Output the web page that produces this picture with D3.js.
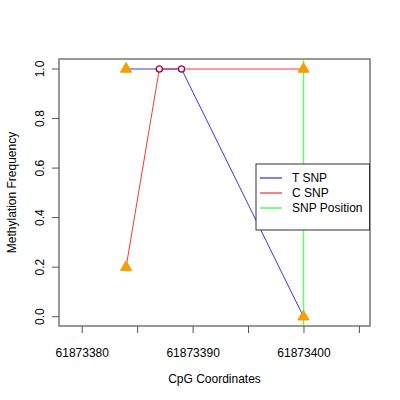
<!DOCTYPE html>
<html>
<head>
<meta charset="utf-8">
<script src="https://cdn.jsdelivr.net/npm/d3@7"></script>
<style>
  body { margin: 0; background: #fff; }
  text { font-family: "Liberation Sans", Arial, sans-serif; }
</style>
</head>
<body>
<script>
// CpG positions and methylation values
const positions = [61873384, 61873387, 61873389, 61873400];
const tSnp = [1.0, 1.0, 1.0, 0.0];
const cSnp = [0.2, 1.0, 1.0, 1.0];
// which points are drawn as triangles vs small open circles
const tShape = ["tri", "circle", "circle", "tri"];
const cShape = ["tri", "circle", "circle", "tri"];
const snpPosition = 61873400;

const xTicks = [61873380, 61873385, 61873390, 61873395, 61873400, 61873405];
const xLabels = [61873380, 61873390, 61873400];
const yTicks = [0, 0.2, 0.4, 0.6, 0.8, 1.0];

const legendNames = ["T SNP", "C SNP", "SNP Position"];
const legendColors = ["#0000ff", "#ff0000", "#00ff00"];

const W = 400, H = 400;
const mLeft = 59, mRight = 370, mTop = 59, mBottom = 326;

const svg = d3.select("body").append("svg")
    .attr("width", W)
    .attr("height", H);

// scales
let x = d3.scaleLinear()
    .domain([61873377.95, 61873406.0])
    .range([mLeft, mRight]);

let y = d3.scaleLinear()
    .domain([0, 1])
    .range([316.7, 69]);

// plot box
svg.append("rect")
    .attr("x", mLeft)
    .attr("y", mTop)
    .attr("width", mRight - mLeft)
    .attr("height", mBottom - mTop)
    .attr("fill", "none")
    .attr("stroke", "#777")
    .attr("stroke-width", 1.5);

// bottom axis
const xAxis = svg.append("g")
    .attr("transform", "translate(0," + mBottom + ")")
    .call(d3.axisBottom(x).tickValues(xTicks).tickSize(7).tickSizeOuter(0)
        .tickFormat(d => xLabels.includes(d) ? d : ""));
xAxis.select(".domain").remove();
xAxis.selectAll("line").attr("stroke", "#555");
xAxis.selectAll("text")
    .attr("dy", "1.75em")
    .attr("font-size", 12)
    .attr("fill", "#000");

// left axis
const yAxis = svg.append("g")
    .attr("transform", "translate(" + mLeft + ",0)")
    .call(d3.axisLeft(y).tickValues(yTicks).tickSize(7)
        .tickFormat(d3.format(".1f")));
yAxis.select(".domain").remove();
yAxis.selectAll("line").attr("stroke", "#555");
yAxis.selectAll(".tick").attr("transform", null);
yAxis.selectAll(".tick line")
    .attr("y1", d => y(d))
    .attr("y2", d => y(d));
yAxis.selectAll("text")
    .attr("font-size", 12)
    .attr("fill", "#000")
    .attr("text-anchor", "middle")
    .attr("transform", "rotate(-90)")
    .attr("x", d => -y(d))
    .attr("y", -15)
    .attr("dy", "0em");

// axis titles
svg.append("text")
    .attr("x", (mLeft + mRight) / 2)
    .attr("y", 383)
    .attr("text-anchor", "middle")
    .attr("font-size", 12)
    .text("CpG Coordinates");

svg.append("text")
    .attr("transform", "translate(16," + (mTop + mBottom) / 2 + ") rotate(-90)")
    .attr("text-anchor", "middle")
    .attr("font-size", 12)
    .text("Methylation Frequency");

// SNP position line
const snpX = Math.round(x(snpPosition)) + 0.5;
svg.append("line")
    .attr("x1", snpX)
    .attr("x2", snpX)
    .attr("y1", mTop)
    .attr("y2", mBottom)
    .attr("stroke", legendColors[2])
    .attr("stroke-opacity", 0.6)
    .attr("stroke-width", 1.5);

const line = d3.line()
    .x(d => x(d[0]))
    .y(d => y(d[1]));

const tData = positions.map((p, i) => [p, tSnp[i], tShape[i]]);
const cData = positions.map((p, i) => [p, cSnp[i], cShape[i]]);

svg.append("path")
    .datum(tData)
    .attr("d", line)
    .attr("fill", "none")
    .attr("stroke", legendColors[0])
    .attr("stroke-width", 0.8);

svg.append("path")
    .datum(cData)
    .attr("d", line)
    .attr("fill", "none")
    .attr("stroke", legendColors[1])
    .attr("stroke-width", 0.8);

// points
function drawPoints(data) {
    const g = svg.append("g");
    g.selectAll(".tri")
        .data(data.filter(d => d[2] === "tri"))
        .enter()
        .append("path")
        .attr("class", "tri")
        .attr("transform", d => "translate(" + x(d[0]) + "," + y(d[1]) + ")")
        .attr("d", d3.symbol().type(d3.symbolTriangle).size(55))
        .attr("fill", "#f5a000")
        .attr("stroke", "#f5a000")
        .attr("stroke-width", 1);
    g.selectAll(".pt")
        .data(data.filter(d => d[2] === "circle"))
        .enter()
        .append("circle")
        .attr("class", "pt")
        .attr("cx", d => x(d[0]))
        .attr("cy", d => y(d[1]))
        .attr("r", 3)
        .attr("fill", "#fff")
        .attr("stroke", "#a00040")
        .attr("stroke-width", 1.2);
}
drawPoints(tData);
drawPoints(cData);

// legend
const lg = svg.append("g");
lg.append("rect")
    .attr("x", 256)
    .attr("y", 164)
    .attr("width", 113.5)
    .attr("height", 66)
    .attr("fill", "#fff")
    .attr("stroke", "#333")
    .attr("stroke-width", 1);

legendNames.forEach((name, i) => {
    lg.append("line")
        .attr("x1", 260)
        .attr("x2", 282)
        .attr("y1", 178 + i * 15)
        .attr("y2", 178 + i * 15)
        .attr("stroke", legendColors[i])
        .attr("stroke-width", 1);
    lg.append("text")
        .attr("x", 292)
        .attr("y", 178 + i * 15)
        .attr("dy", "0.35em")
        .attr("font-size", 12)
        .text(name);
});
</script>
</body>
</html>
